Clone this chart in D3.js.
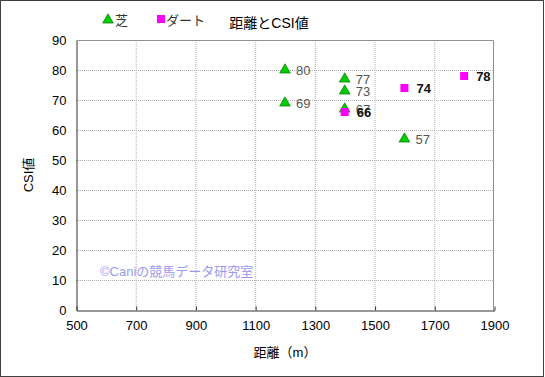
<!DOCTYPE html>
<html>
<head>
<meta charset="utf-8">
<script src="https://cdn.jsdelivr.net/npm/d3@7"></script>
<style>
  body { margin: 0; background: #fff; }
  text { font-family: "Liberation Sans", "Noto Sans CJK JP", sans-serif; }
</style>
</head>
<body>
<div id="chart"></div>
<script>
// data
const turfDist = [1200, 1200, 1400, 1400, 1400, 1600];
const turfCsi = [80, 69, 77, 73, 67, 57];
const dirtDist = [1400, 1600, 1800];
const dirtCsi = [66, 74, 78];
const xTicks = [500, 700, 900, 1100, 1300, 1500, 1700, 1900];
const yTicks = [0, 10, 20, 30, 40, 50, 60, 70, 80, 90];

const turf = turfDist.map((d, i) => ({ x: d, y: turfCsi[i] }));
const dirt = dirtDist.map((d, i) => ({ x: d, y: dirtCsi[i] }));

const svg = d3.select('#chart').append('svg')
    .attr('width', 545)
    .attr('height', 377);

// outer frame
svg.append('rect')
    .attr('x', 0.5).attr('y', 0.5)
    .attr('width', 543).attr('height', 376)
    .attr('fill', '#fff')
    .attr('stroke', '#404040');

const x = d3.scaleLinear().domain([500, 1900]).range([76, 494]);
const y = d3.scaleLinear().domain([0, 90]).range([310, 40]);

// grid
svg.append('g').selectAll('line')
    .data(xTicks.slice(1, -1))
    .enter().append('line')
    .attr('x1', d => x(d) + 0.5).attr('x2', d => x(d) + 0.5)
    .attr('y1', 40).attr('y2', 310)
    .attr('stroke', '#b0b0b0')
    .attr('stroke-dasharray', '1,1');

svg.append('g').selectAll('line')
    .data(yTicks.slice(1, -1))
    .enter().append('line')
    .attr('x1', 76).attr('x2', 494)
    .attr('y1', d => y(d) + 0.5).attr('y2', d => y(d) + 0.5)
    .attr('stroke', '#b0b0b0')
    .attr('stroke-dasharray', '1,1');

// frame: top/right gray, left/bottom dark
svg.append('path')
    .attr('d', `M76.5,40.5H493.5V310.5`)
    .attr('fill', 'none').attr('stroke', '#909090');

const xAxis = svg.append('g')
    .attr('transform', 'translate(0.5,310.5)')
    .call(d3.axisBottom(x).tickValues(xTicks).tickFormat(d3.format('d'))
        .tickSize(-4).tickPadding(10).tickSizeOuter(0));
const yAxis = svg.append('g')
    .attr('transform', 'translate(76.5,0.5)')
    .call(d3.axisLeft(y).tickValues(yTicks).tickSize(0).tickPadding(10).tickSizeOuter(0));
[xAxis, yAxis].forEach(a => {
    a.select('.domain').attr('stroke', '#333');
    a.selectAll('.tick line').attr('stroke', '#333');
    a.selectAll('text').attr('font-size', 13).attr('fill', '#000');
});

// axis titles
svg.append('text')
    .attr('x', 285).attr('y', 357)
    .attr('text-anchor', 'middle')
    .attr('font-size', 13)
    .text('距離（m）');
svg.append('text')
    .attr('transform', 'translate(33,175) rotate(-90)')
    .attr('text-anchor', 'middle')
    .attr('font-size', 13)
    .text('CSI値');

// title
svg.append('text')
    .attr('x', 269).attr('y', 28)
    .attr('text-anchor', 'middle')
    .attr('font-size', 14)
    .text('距離とCSI値');

// watermark
svg.append('text')
    .attr('x', 100).attr('y', 276)
    .attr('font-size', 13)
    .attr('fill', '#9a9aee')
    .text('©Caniの競馬データ研究室');

// legend
const tri = d3.symbol().type(d3.symbolTriangle).size(50);
svg.append('path')
    .attr('d', tri())
    .attr('transform', 'translate(108,20)')
    .attr('fill', '#00cc00').attr('stroke', '#006600').attr('stroke-width', 0.6);
svg.append('text').attr('x', 115).attr('y', 25).attr('font-size', 13).attr('fill', '#333').text('芝');
svg.append('rect').attr('x', 157).attr('y', 15).attr('width', 8).attr('height', 8).attr('fill', '#ff00ff');
svg.append('text').attr('x', 166).attr('y', 25).attr('font-size', 13).attr('fill', '#333').text('ダート');

// points
svg.append('g').selectAll('path')
    .data(turf)
    .enter().append('path')
    .attr('d', tri())
    .attr('transform', d => `translate(${x(d.x)},${y(d.y)})`)
    .attr('fill', '#00cc00').attr('stroke', '#006600').attr('stroke-width', 0.6);

svg.append('g').selectAll('text')
    .data(turf)
    .enter().append('text')
    .attr('x', d => x(d.x) + 11)
    .attr('y', d => y(d.y) + 5)
    .attr('font-size', 13)
    .attr('fill', '#555')
    .text(d => d.y);

svg.append('g').selectAll('rect')
    .data(dirt)
    .enter().append('rect')
    .attr('x', d => x(d.x) - 4)
    .attr('y', d => y(d.y) - 4)
    .attr('width', 8).attr('height', 8)
    .attr('fill', '#ff00ff');

svg.append('g').selectAll('text')
    .data(dirt)
    .enter().append('text')
    .attr('x', d => x(d.x) + 12)
    .attr('y', d => y(d.y) + 5)
    .attr('font-size', 13)
    .attr('font-weight', 'bold')
    .attr('fill', '#111')
    .text(d => d.y);
</script>
</body>
</html>
